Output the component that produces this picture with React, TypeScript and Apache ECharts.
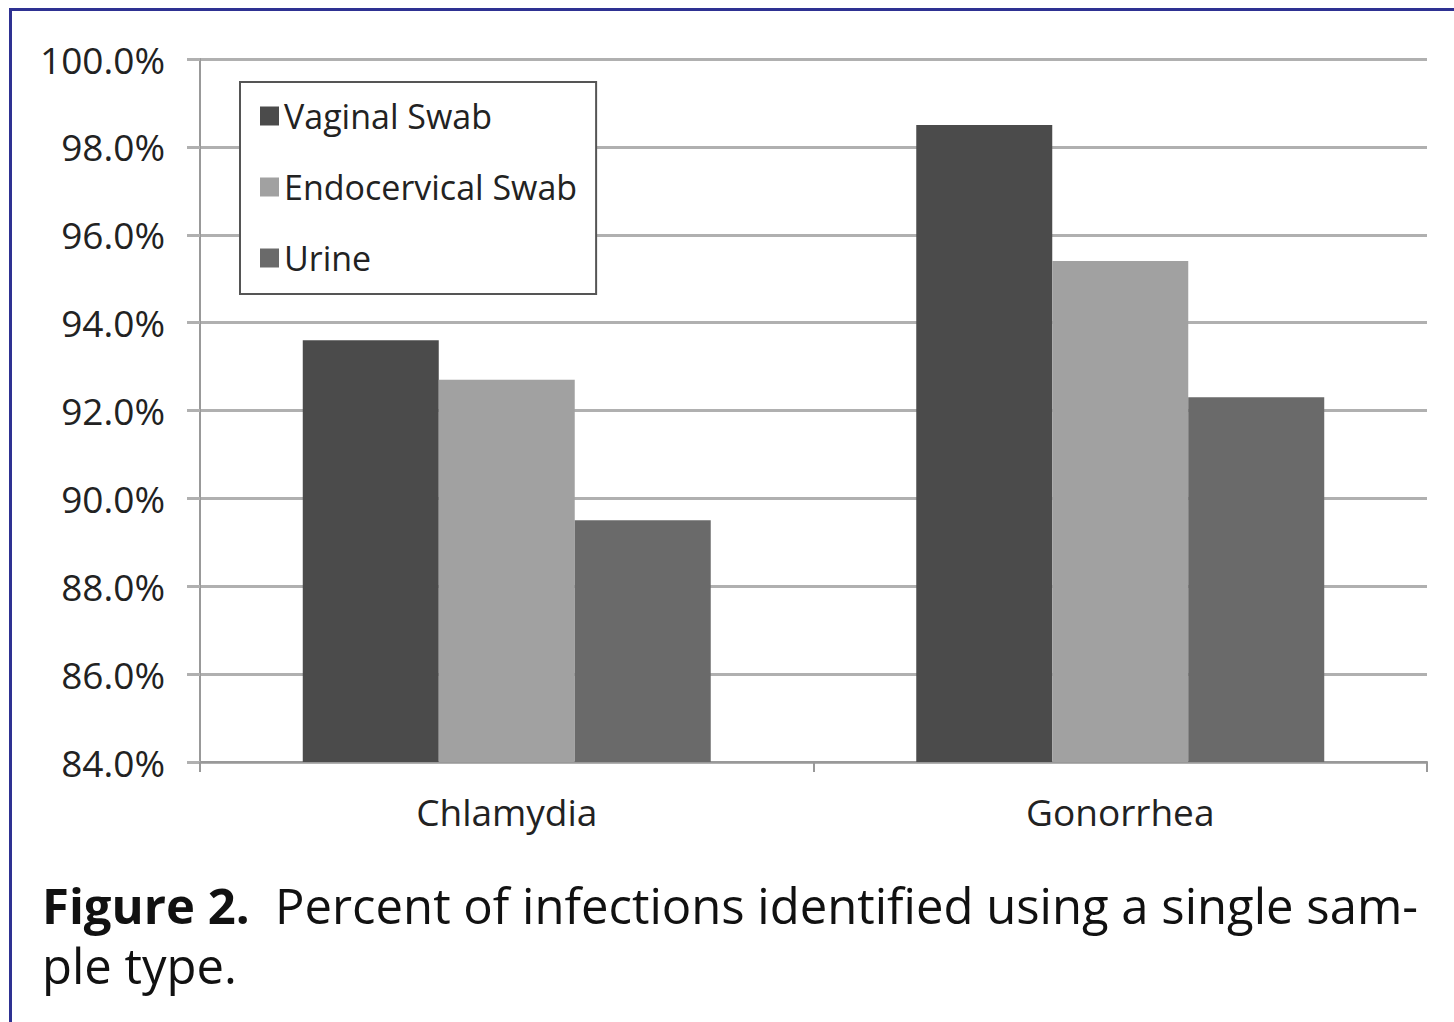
import React, { useEffect, useRef } from "react";
import * as echarts from "echarts";

const categories = ["Chlamydia", "Gonorrhea"];
const seriesNames = ["Vaginal Swab", "Endocervical Swab", "Urine"];
const vaginalSwab = [93.6, 98.5];
const endocervicalSwab = [92.7, 95.4];
const urine = [89.5, 92.3];
const yTicks = { min: 84, max: 100, interval: 2 };
const captionBold = "Figure 2.";
const captionLine1 = "Percent of infections identified using a single sam-";
const captionLine2 = "ple type.";

const colors = ["#4b4b4b", "#a1a1a1", "#6a6a6a"];
const FONT = "'Open Sans', 'Noto Sans', sans-serif";

export default function App() {
  const ref = useRef<HTMLDivElement>(null);
  useEffect(() => {
    if (!ref.current) return;
    const chart = echarts.init(ref.current, null, { renderer: "svg" });
    const values = [vaginalSwab, endocervicalSwab, urine];
    chart.setOption({
      animation: false,
      backgroundColor: "#ffffff",
      color: colors,
      grid: { left: 200, right: 27, top: 59, bottom: 260, containLabel: false },
      legend: {
        orient: "vertical",
        left: 240,
        top: 82,
        data: seriesNames,
        icon: "rect",
        itemWidth: 19,
        itemHeight: 19,
        itemGap: 37,
        padding: [17, 19, 19, 20],
        borderColor: "#555",
        borderWidth: 2,
        backgroundColor: "#ffffff",
        textStyle: { fontFamily: FONT, fontSize: 34, color: "#222" },
      },
      xAxis: {
        type: "category",
        data: categories,
        axisLine: { lineStyle: { color: "#999", width: 2 } },
        axisTick: { show: true, length: 10, lineStyle: { color: "#999", width: 2 } },
        axisLabel: { fontFamily: FONT, fontSize: 37, color: "#222", margin: 31 },
      },
      yAxis: {
        type: "value",
        min: yTicks.min,
        max: yTicks.max,
        interval: yTicks.interval,
        axisLine: { show: true, lineStyle: { color: "#999", width: 2 } },
        axisTick: { show: true, length: 13, lineStyle: { color: "#b0b0b0", width: 3 } },
        splitLine: { lineStyle: { color: "#b0b0b0", width: 3 } },
        axisLabel: {
          fontFamily: FONT,
          fontSize: 37,
          color: "#222",
          margin: 35,
          formatter: (v: number) => v.toFixed(1) + "%",
        },
      },
      series: seriesNames.map((name, i) => ({
        name,
        type: "bar",
        data: values[i],
        barGap: "0%",
        barCategoryGap: "33.5%",
        itemStyle: { color: colors[i] },
      })),
      graphic: [
        { type: "rect", shape: { x: 9, y: 8, width: 1445, height: 3 }, style: { fill: "#2e3192" } },
        { type: "rect", shape: { x: 9, y: 8, width: 3, height: 1014 }, style: { fill: "#2e3192" } },
        {
          type: "text",
          left: 42,
          top: 875,
          style: {
            text: "{b|" + captionBold + "}  " + captionLine1 + "\n" + captionLine2,
            fontFamily: FONT,
            fontSize: 49,
            lineHeight: 60,
            fill: "#111",
            rich: {
              b: { fontWeight: "bold", fontFamily: FONT, fontSize: 49, lineHeight: 60, fill: "#111" },
            },
          },
        },
      ],
    });
    return () => chart.dispose();
  }, []);
  return (
    <div
      ref={ref}
      style={{ position: "fixed", left: 0, top: 0, width: 1454, height: 1022 }}
    />
  );
}
